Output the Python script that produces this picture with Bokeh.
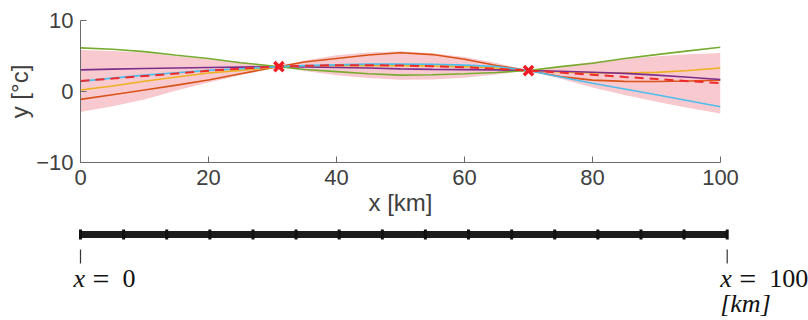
from bokeh.plotting import figure
from bokeh.models import Range1d, FixedTicker
from bokeh.layouts import column
from bokeh.embed import file_html
from bokeh.resources import INLINE
from bokeh.core.properties import value

# ---------------- data ----------------
x_km = [0, 5, 10, 15, 20, 25, 30, 31, 35, 40, 45, 50, 55, 60, 65, 70, 75, 80, 85, 90, 95, 100]

sample_orange = [-1.11, -0.45, 0.2, 0.9, 1.62, 2.5, 3.35, 3.5, 4.15, 4.65, 5.15, 5.45, 5.2, 4.55, 3.65, 2.95, 2.1, 1.6, 1.42, 1.4, 1.48, 1.6]
sample_yellow = [0.2, 0.78, 1.45, 2.05, 2.6, 2.98, 3.4, 3.5, 3.58, 3.63, 3.65, 3.65, 3.6, 3.5, 3.3, 2.95, 2.75, 2.62, 2.6, 2.7, 2.95, 3.3]
sample_purple = [3.05, 3.15, 3.25, 3.32, 3.38, 3.44, 3.49, 3.5, 3.45, 3.38, 3.3, 3.18, 3.12, 3.08, 3.05, 2.95, 2.85, 2.72, 2.55, 2.3, 2.0, 1.7]
sample_green = [6.14, 5.95, 5.62, 5.1, 4.65, 4.05, 3.6, 3.5, 3.1, 2.8, 2.5, 2.3, 2.35, 2.5, 2.68, 2.95, 3.5, 3.98, 4.65, 5.19, 5.72, 6.23]
sample_blue = [1.43, 1.88, 2.3, 2.65, 2.98, 3.2, 3.45, 3.5, 3.65, 3.75, 3.85, 3.88, 3.83, 3.72, 3.52, 2.95, 2.05, 1.15, 0.35, -0.45, -1.3, -2.14]

post_mean = [1.48, 1.82, 2.18, 2.55, 2.92, 3.23, 3.46, 3.5, 3.62, 3.7, 3.71, 3.66, 3.55, 3.4, 3.2, 2.95, 2.66, 2.36, 2.05, 1.76, 1.46, 1.17]
band_upper = [5.83, 5.72, 5.48, 4.95, 4.57, 4.18, 3.64, 3.5, 4.37, 5.10, 5.51, 5.66, 5.40, 4.85, 4.00, 2.95, 3.54, 4.16, 4.60, 4.96, 5.24, 5.43]
band_lower = [-2.87, -2.08, -1.12, 0.15, 1.27, 2.28, 3.28, 3.5, 2.87, 2.30, 1.91, 1.66, 1.70, 1.95, 2.40, 2.95, 1.78, 0.56, -0.50, -1.44, -2.32, -3.09]

obs_x = [31, 70]
obs_y = [3.5, 2.95]

x_ticks = [0, 20, 40, 60, 80, 100]
y_ticks = [-10, 0, 10]
x_label = "x [km]"
y_label = "y [°c]"

grid_nodes = [0, 6.67, 13.33, 20, 26.67, 33.33, 40, 46.67, 53.33, 60, 66.67, 73.33, 80, 86.67, 93.33, 100]
end_nodes = [0, 100]
end_names = ["0", "100"]
unit_label = "[km]"

# ---------------- top plot ----------------
AX = "#6b6b6b"
TXT = "#404040"

p = figure(width=808, height=228, x_range=Range1d(0, 100), y_range=Range1d(-10, 10),
           output_backend="svg", toolbar_location=None,
           min_border_left=80, min_border_right=88, min_border_top=20, min_border_bottom=66)
p.outline_line_color = None
p.grid.visible = False
p.frame_align = False

p.varea(x=x_km, y1=band_lower, y2=band_upper, fill_color="#F8C9CE")

series = [(sample_orange, "#D95319"), (sample_yellow, "#EDB120"), (sample_purple, "#7E2F8E"),
          (sample_green, "#77AC30"), (sample_blue, "#4DBEEE")]
for ys, c in series:
    p.line(x_km, ys, line_color=c, line_width=1.6)

p.line(x_km, post_mean, line_color="#EE2A2A", line_width=2, line_dash="9 6")
p.scatter(obs_x, obs_y, marker="x", size=13, line_color="#EE1C25", line_width=3.5)

p.xaxis.ticker = FixedTicker(ticks=x_ticks)
p.yaxis.ticker = FixedTicker(ticks=y_ticks)
p.xaxis.axis_label = x_label
p.yaxis.axis_label = y_label
for ax in (p.xaxis[0], p.yaxis[0]):
    ax.major_tick_in = 6
    ax.major_tick_out = 0
    ax.minor_tick_in = 0
    ax.minor_tick_out = 0
    ax.axis_line_color = AX
    ax.major_tick_line_color = AX
    ax.major_label_text_font = "Liberation Sans"
    ax.major_label_text_font_size = "22px"
    ax.major_label_text_color = TXT
    ax.axis_label_text_font = "Liberation Sans"
    ax.axis_label_text_font_size = "24px"
    ax.axis_label_text_font_style = "normal"
    ax.axis_label_text_color = TXT
p.xaxis.major_label_standoff = 7
p.yaxis.major_label_standoff = 7
p.xaxis.axis_label_standoff = 1
p.yaxis.axis_label_standoff = 0

# ---------------- bottom schematic ----------------
q = figure(width=808, height=92, x_range=Range1d(-12.37, 112.57), y_range=Range1d(92, 0),
           output_backend="svg", toolbar_location=None, min_border=0)
q.axis.visible = False
q.grid.visible = False
q.outline_line_color = None
q.frame_align = False

LINE_Y = 6
q.line(grid_nodes, [LINE_Y] * len(grid_nodes), line_width=7, line_color="#1c1c1c")
q.rect(grid_nodes, LINE_Y, width=3, height=10, width_units="screen", height_units="screen",
       fill_color="#111111", line_color=None)
q.segment(x0=end_nodes, y0=21, x1=end_nodes, y1=35, line_color="#333333", line_width=1.2)

SERIF = value("Liberation Serif")
q.text(end_nodes, 50, text=["x", "x"], text_font=SERIF, text_font_style="italic",
       text_font_size="26px", text_baseline="middle", text_align="left", x_offset=-7, text_color="#111111")
q.text(end_nodes, 50, text=["=", "="], text_font=SERIF, text_font_size="30px",
       text_baseline="middle", text_align="left", x_offset=12, text_color="#111111")
q.text(end_nodes, 50, text=end_names, text_font=SERIF, text_font_size="26px",
       text_baseline="middle", text_align="left", x_offset=42, text_color="#111111")
q.text([end_nodes[1]], 75, text=[unit_label], text_font=SERIF, text_font_style="italic",
       text_font_size="26px", text_baseline="middle", text_align="left", x_offset=-7, text_color="#111111")

layout = column(p, q, spacing=0)
open("out.html", "w").write(file_html(layout, INLINE))
